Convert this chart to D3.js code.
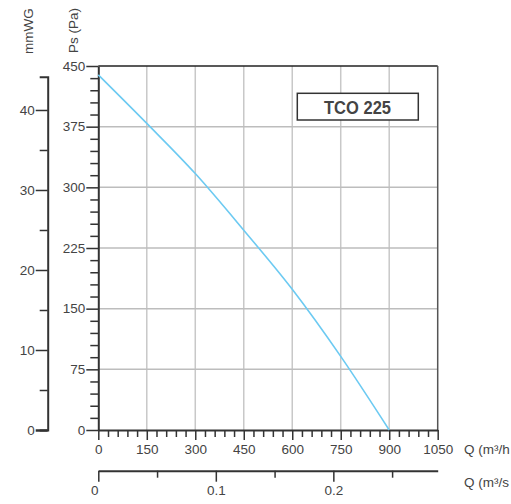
<!DOCTYPE html>
<html>
<head>
<meta charset="utf-8">
<script src="https://cdn.jsdelivr.net/npm/d3@7"></script>
<style>
  html, body { margin: 0; padding: 0; background: #fff; }
  svg { display: block; }
  text { font-family: "Liberation Sans", Arial, sans-serif; fill: #444; }
</style>
</head>
<body>
<svg id="chart" width="511" height="504"></svg>
<script>
// ---- Data ----
const flowM3h = [0, 150, 300, 450, 600, 750, 900];
const pressurePa = [439, 379, 317, 247, 174, 91, 0];
const flowTicks = [0, 150, 300, 450, 600, 750, 900, 1050];
const paTicks = [0, 75, 150, 225, 300, 375, 450];
const mmwgTicks = [0, 10, 20, 30, 40];
const m3sTicks = [0, 0.1, 0.2];
const modelLabel = "TCO 225";

const svg = d3.select("#chart");
const FS = "13.5px";

const x = d3.scaleLinear().domain([0, 1050]).range([98.3, 437.7]);
const y = d3.scaleLinear().domain([0, 450]).range([430, 66]);
const yMM = d3.scaleLinear().domain([0, 44.16]).range([430, 76.7]);
const xQs = d3.scaleLinear().domain([0, 0.2888]).range([98.3, 437.7]);

// grid
const grid = svg.append("g");
grid.selectAll("line.v").data(flowTicks.slice(1, -1)).join("line")
  .attr("x1", d => x(d)).attr("x2", d => x(d))
  .attr("y1", y(450)).attr("y2", y(0))
  .attr("stroke", "#c8c8c8").attr("stroke-width", 1.5);
grid.selectAll("line.h").data(paTicks.slice(1, -1)).join("line")
  .attr("x1", x(0)).attr("x2", x(1050))
  .attr("y1", d => y(d)).attr("y2", d => y(d))
  .attr("stroke", "#bdbdbd").attr("stroke-width", 1.5);

// frame top and right
svg.append("line").attr("x1", x(0)).attr("x2", x(1050)).attr("y1", y(450)).attr("y2", y(450))
  .attr("stroke", "#222").attr("stroke-width", 1.5);
svg.append("line").attr("x1", x(1050)).attr("x2", x(1050)).attr("y1", y(450)).attr("y2", y(0))
  .attr("stroke", "#555").attr("stroke-width", 1.5);

function styleAxis(g, w) {
  g.attr("font-size", null);
  g.select(".domain").attr("stroke", "#333").attr("stroke-width", w);
  g.selectAll(".tick line").attr("stroke", "#333").attr("stroke-width", 1.5);
  g.selectAll(".tick text").attr("fill", "#444").style("font-size", FS)
    .style("font-family", "'Liberation Sans', Arial, sans-serif");
}

// Pa axis: minor ticks every 15
const paMinor = d3.range(0, 451, 15).filter(v => v % 75 !== 0);
const gPaMinor = svg.append("g").attr("transform", `translate(${x(0)},0)`)
  .call(d3.axisLeft(y).tickValues(paMinor).tickSize(8).tickFormat(""));
gPaMinor.select(".domain").remove();
gPaMinor.selectAll(".tick line").attr("stroke", "#333").attr("stroke-width", 1.5);
const gPa = svg.append("g").attr("transform", `translate(${x(0)},0)`)
  .call(d3.axisLeft(y).tickValues(paTicks).tickSize(12).tickSizeOuter(0).tickPadding(1)
    .tickFormat(d3.format("d")));
styleAxis(gPa, 2);

// mmWG axis
const mmMinor = [5, 15, 25, 35];
const gMMMinor = svg.append("g").attr("transform", "translate(47.7,0)")
  .call(d3.axisLeft(yMM).tickValues(mmMinor).tickSize(8).tickFormat(""));
gMMMinor.select(".domain").remove();
gMMMinor.selectAll(".tick line").attr("stroke", "#333").attr("stroke-width", 1.5);
const gMM = svg.append("g").attr("transform", "translate(47.7,0)")
  .call(d3.axisLeft(yMM).tickValues(mmwgTicks).tickSize(12).tickSizeOuter(8).tickPadding(1)
    .tickFormat(d3.format("d")));
styleAxis(gMM, 2);
gMM.selectAll(".tick").filter(d => d === 0).select("line").attr("stroke-width", 2.5);

// bottom flow axis (m3/h), minor every 30
const flowMinor = d3.range(0, 1051, 30).filter(v => v % 150 !== 0);
const gFMinor = svg.append("g").attr("transform", `translate(0,${y(0)})`)
  .call(d3.axisBottom(x).tickValues(flowMinor).tickSize(7).tickFormat(""));
gFMinor.select(".domain").remove();
gFMinor.selectAll(".tick line").attr("stroke", "#333").attr("stroke-width", 1.5);
const gF = svg.append("g").attr("transform", `translate(0,${y(0)})`)
  .call(d3.axisBottom(x).tickValues(flowTicks).tickSize(10).tickSizeOuter(0).tickPadding(4)
    .tickFormat(d3.format("d")));
styleAxis(gF, 2);

// second axis m3/s
const m3sMinor = [0.05, 0.15, 0.25];
const gQsMinor = svg.append("g").attr("transform", "translate(0,470.7)")
  .call(d3.axisBottom(xQs).tickValues(m3sMinor).tickSize(7).tickFormat(""));
gQsMinor.select(".domain").remove();
gQsMinor.selectAll(".tick line").attr("stroke", "#333").attr("stroke-width", 1.5);
const gQs = svg.append("g").attr("transform", "translate(0,470.7)")
  .call(d3.axisBottom(xQs).tickValues(m3sTicks).tickSize(11).tickSizeOuter(0).tickPadding(4)
    .tickFormat(d => d === 0 ? "0" : d3.format(".1f")(d)));
styleAxis(gQs, 2);
gQs.selectAll(".tick").filter(d => d === 0).select("text").attr("x", -4);

// curve
const pts = flowM3h.map((q, i) => [q, pressurePa[i]]);
svg.append("path").datum(pts)
  .attr("d", d3.line().x(d => x(d[0])).y(d => y(d[1])).curve(d3.curveMonotoneX))
  .attr("fill", "none").attr("stroke", "#6ccaf2").attr("stroke-width", 1.6);

// axis titles
svg.append("text").attr("transform", "translate(33,54) rotate(-90)")
  .attr("text-anchor", "start").style("font-size", FS).attr("fill", "#333").text("mmWG");
svg.append("text").attr("transform", "translate(78,53) rotate(-90)")
  .attr("text-anchor", "start").style("font-size", FS).attr("fill", "#333").text("Ps (Pa)");
svg.append("text").attr("x", 464).attr("y", 453.5)
  .style("font-size", FS).attr("fill", "#444").text("Q (m³/h");
svg.append("text").attr("x", 464).attr("y", 487)
  .style("font-size", FS).attr("fill", "#444").text("Q (m³/s");

// model label box
svg.append("rect").attr("x", 297.3).attr("y", 93.3).attr("width", 121).attr("height", 26.7)
  .attr("fill", "#fff").attr("stroke", "#333").attr("stroke-width", 1.5);
svg.append("text").attr("x", 357.5).attr("y", 113.5).attr("text-anchor", "middle")
  .style("font-family", "'Liberation Sans Narrow', 'Liberation Sans', Arial, sans-serif")
  .style("font-weight", "bold").style("font-size", "18px").attr("fill", "#555")
  .attr("textLength", 67).attr("lengthAdjust", "spacingAndGlyphs")
  .text(modelLabel);
</script>
</body>
</html>
